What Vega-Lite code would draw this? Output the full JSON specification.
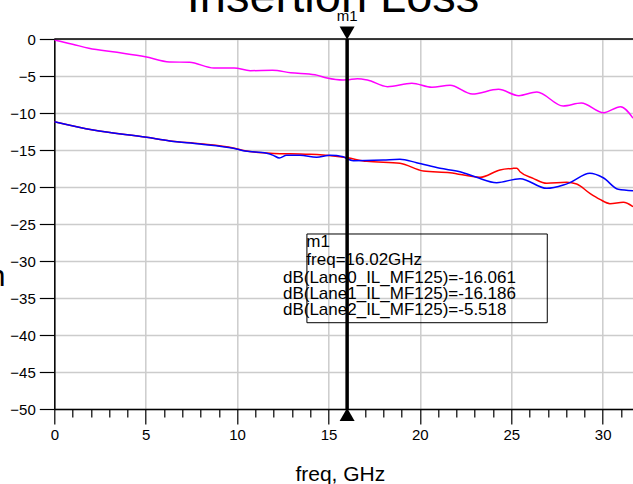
{
  "$schema": "https://vega.github.io/schema/vega-lite/v6.json",
  "width": 578.7,
  "height": 370,
  "autosize": {"type": "none"},
  "padding": {"left": 54.3, "top": 39, "right": 0, "bottom": 75},
  "background": "white",
  "config": {"view": {"stroke": null}, "font": "Liberation Sans"},
  "title": {"text": "Insertion Loss", "fontSize": 47, "font": "Liberation Sans", "fontWeight": "normal", "color": "black", "anchor": "middle", "frame": "group", "baseline": "alphabetic", "offset": 0, "dy": 50, "dx": -10.6},
  "datasets": {
    "curves": [
      {"trace": "Lane0", "f": 0, "v": -11.17},
      {"trace": "Lane0", "f": 2.13, "v": -12.3},
      {"trace": "Lane0", "f": 5.05, "v": -13.29},
      {"trace": "Lane0", "f": 6.33, "v": -13.78},
      {"trace": "Lane0", "f": 7.97, "v": -14.15},
      {"trace": "Lane0", "f": 9.79, "v": -14.72},
      {"trace": "Lane0", "f": 10.43, "v": -15.1},
      {"trace": "Lane0", "f": 11.62, "v": -15.4},
      {"trace": "Lane0", "f": 12.35, "v": -15.5},
      {"trace": "Lane0", "f": 13.44, "v": -15.54},
      {"trace": "Lane0", "f": 13.99, "v": -15.59},
      {"trace": "Lane0", "f": 15.26, "v": -15.81},
      {"trace": "Lane0", "f": 16.02, "v": -16.06},
      {"trace": "Lane0", "f": 17.09, "v": -16.53},
      {"trace": "Lane0", "f": 18.91, "v": -16.8},
      {"trace": "Lane0", "f": 20.19, "v": -17.84},
      {"trace": "Lane0", "f": 21.65, "v": -18.06},
      {"trace": "Lane0", "f": 23.29, "v": -18.69},
      {"trace": "Lane0", "f": 24.38, "v": -17.7},
      {"trace": "Lane0", "f": 25.11, "v": -17.48},
      {"trace": "Lane0", "f": 25.3, "v": -17.45},
      {"trace": "Lane0", "f": 25.48, "v": -17.93},
      {"trace": "Lane0", "f": 26.2, "v": -18.83},
      {"trace": "Lane0", "f": 26.94, "v": -19.5},
      {"trace": "Lane0", "f": 28.03, "v": -19.37},
      {"trace": "Lane0", "f": 28.58, "v": -19.6},
      {"trace": "Lane0", "f": 29.3, "v": -20.86},
      {"trace": "Lane0", "f": 29.85, "v": -21.67},
      {"trace": "Lane0", "f": 30.4, "v": -22.25},
      {"trace": "Lane0", "f": 31.13, "v": -22.07},
      {"trace": "Lane0", "f": 31.66, "v": -22.66},
      {"trace": "Lane1", "f": 0, "v": -11.17},
      {"trace": "Lane1", "f": 2.13, "v": -12.3},
      {"trace": "Lane1", "f": 5.05, "v": -13.29},
      {"trace": "Lane1", "f": 6.33, "v": -13.78},
      {"trace": "Lane1", "f": 7.97, "v": -14.19},
      {"trace": "Lane1", "f": 9.79, "v": -14.77},
      {"trace": "Lane1", "f": 10.43, "v": -15.14},
      {"trace": "Lane1", "f": 11.62, "v": -15.45},
      {"trace": "Lane1", "f": 11.98, "v": -15.72},
      {"trace": "Lane1", "f": 12.31, "v": -16.08},
      {"trace": "Lane1", "f": 12.71, "v": -15.72},
      {"trace": "Lane1", "f": 13.44, "v": -15.72},
      {"trace": "Lane1", "f": 14.35, "v": -15.99},
      {"trace": "Lane1", "f": 15.08, "v": -15.72},
      {"trace": "Lane1", "f": 15.81, "v": -15.9},
      {"trace": "Lane1", "f": 16.02, "v": -16.19},
      {"trace": "Lane1", "f": 16.36, "v": -16.44},
      {"trace": "Lane1", "f": 18.0, "v": -16.35},
      {"trace": "Lane1", "f": 18.91, "v": -16.26},
      {"trace": "Lane1", "f": 19.82, "v": -16.71},
      {"trace": "Lane1", "f": 21.1, "v": -17.48},
      {"trace": "Lane1", "f": 22.19, "v": -17.93},
      {"trace": "Lane1", "f": 23.1, "v": -18.69},
      {"trace": "Lane1", "f": 24.2, "v": -19.41},
      {"trace": "Lane1", "f": 25.48, "v": -18.87},
      {"trace": "Lane1", "f": 26.94, "v": -20.18},
      {"trace": "Lane1", "f": 27.85, "v": -19.73},
      {"trace": "Lane1", "f": 28.21, "v": -19.41},
      {"trace": "Lane1", "f": 29.3, "v": -18.15},
      {"trace": "Lane1", "f": 30.03, "v": -18.75},
      {"trace": "Lane1", "f": 30.85, "v": -20.31},
      {"trace": "Lane1", "f": 31.66, "v": -20.5},
      {"trace": "Lane2", "f": 0, "v": -0.13},
      {"trace": "Lane2", "f": 1.0, "v": -0.7},
      {"trace": "Lane2", "f": 1.89, "v": -1.26},
      {"trace": "Lane2", "f": 3.43, "v": -1.8},
      {"trace": "Lane2", "f": 4.98, "v": -2.39},
      {"trace": "Lane2", "f": 6.3, "v": -3.1},
      {"trace": "Lane2", "f": 7.4, "v": -3.15},
      {"trace": "Lane2", "f": 8.73, "v": -3.92},
      {"trace": "Lane2", "f": 9.84, "v": -3.92},
      {"trace": "Lane2", "f": 10.72, "v": -4.28},
      {"trace": "Lane2", "f": 11.94, "v": -4.23},
      {"trace": "Lane2", "f": 12.93, "v": -4.55},
      {"trace": "Lane2", "f": 14.26, "v": -4.82},
      {"trace": "Lane2", "f": 14.92, "v": -5.27},
      {"trace": "Lane2", "f": 15.8, "v": -5.54},
      {"trace": "Lane2", "f": 16.02, "v": -5.52},
      {"trace": "Lane2", "f": 16.58, "v": -5.36},
      {"trace": "Lane2", "f": 17.13, "v": -5.54},
      {"trace": "Lane2", "f": 18.23, "v": -6.44},
      {"trace": "Lane2", "f": 19.56, "v": -5.99},
      {"trace": "Lane2", "f": 20.66, "v": -6.53},
      {"trace": "Lane2", "f": 21.65, "v": -6.26},
      {"trace": "Lane2", "f": 22.87, "v": -7.43},
      {"trace": "Lane2", "f": 24.3, "v": -6.8},
      {"trace": "Lane2", "f": 25.41, "v": -7.66},
      {"trace": "Lane2", "f": 26.4, "v": -7.16},
      {"trace": "Lane2", "f": 27.84, "v": -9.05},
      {"trace": "Lane2", "f": 28.83, "v": -8.65},
      {"trace": "Lane2", "f": 30.05, "v": -9.96},
      {"trace": "Lane2", "f": 30.98, "v": -9.15},
      {"trace": "Lane2", "f": 31.66, "v": -10.7}
    ]
  },
  "encoding": {
    "x": {
      "field": "f", "type": "quantitative",
      "scale": {"domain": [0, 31.66], "nice": false, "zero": false},
      "axis": {
        "values": [0,1,2,3,4,5,6,7,8,9,10,11,12,13,14,15,16,17,18,19,20,21,22,23,24,25,26,27,28,29,30,31],
        "labelExpr": "datum.value % 5 === 0 ? datum.label : ''",
        "labelFont": "Liberation Sans", "labelFontSize": 15, "labelColor": "black", "labelPadding": 3,
        "labelFlush": false, "labelOverlap": false,
        "tickSize": {"condition": {"test": "datum.value % 5 === 0", "value": 15}, "value": 8},
        "tickColor": "black", "tickWidth": 1.2,
        "grid": true, "gridColor": "#cccccc", "gridWidth": 1.5,
        "gridOpacity": {"condition": {"test": "datum.value % 5 === 0", "value": 1}, "value": 0},
        "domainColor": "black", "domainWidth": 1.5,
        "title": "freq, GHz", "titleFont": "Liberation Sans", "titleFontSize": 21, "titleFontWeight": "normal", "titleColor": "black",
        "titleX": 285.5, "titleY": 71, "titleAlign": "center", "titleBaseline": "alphabetic"
      }
    },
    "y": {
      "field": "v", "type": "quantitative",
      "scale": {"domain": [-50, 0], "nice": false, "zero": false},
      "axis": {
        "values": [-50,-45,-40,-35,-30,-25,-20,-15,-10,-5,0],
        "labelFont": "Liberation Sans", "labelFontSize": 15, "labelColor": "black", "labelPadding": 4,
        "labelFlush": false, "labelOverlap": false,
        "tickSize": 15, "tickColor": "black", "tickWidth": 1.2,
        "grid": true, "gridColor": "#cccccc", "gridWidth": 1.5,
        "domainColor": "black", "domainWidth": 1.5,
        "title": "Insertion", "titleFont": "Liberation Sans", "titleFontSize": 30, "titleFontWeight": "normal", "titleColor": "black",
        "titleAngle": 0, "titleAlign": "right", "titleBaseline": "alphabetic", "titleX": -49.3, "titleY": 246
      }
    }
  },
  "layer": [
    {
      "data": {"name": "curves"},
      "mark": {"type": "line", "interpolate": "monotone", "strokeWidth": 1.5, "clip": true},
      "encoding": {
        "color": {"field": "trace", "type": "nominal", "scale": {"domain": ["Lane0", "Lane1", "Lane2"], "range": ["#ff0000", "#0000ff", "#ff00ff"]}, "legend": null}
      }
    },
    {
      "data": {"values": [{"f": 0, "f2": 31.66, "v": 0}]},
      "mark": {"type": "rule", "color": "black", "strokeWidth": 1.5},
      "encoding": {"x2": {"field": "f2"}}
    },
    {
      "data": {"values": [{"f": 13.82, "f2": 26.97, "v": -26.35, "v2": -38.34}]},
      "mark": {"type": "rect", "fill": "white", "fillOpacity": 0, "stroke": "black", "strokeWidth": 1},
      "encoding": {"x2": {"field": "f2"}, "y2": {"field": "v2"}}
    },
    {
      "data": {"values": [
        {"t": "m1", "f": 13.79, "v": -28.1},
        {"t": "freq=16.02GHz", "f": 13.79, "v": -30.54},
        {"t": "dB(Lane0_IL_MF125)=-16.061", "f": 12.51, "v": -32.97},
        {"t": "dB(Lane1_IL_MF125)=-16.186", "f": 12.51, "v": -35.14},
        {"t": "dB(Lane2_IL_MF125)=-5.518", "f": 12.51, "v": -37.3}
      ]},
      "mark": {"type": "text", "align": "left", "baseline": "alphabetic", "fontSize": 17, "font": "Liberation Sans", "color": "black"},
      "encoding": {"text": {"field": "t"}}
    },
    {
      "data": {"values": [{"f": 16.02, "v": 0, "v2": -50}]},
      "mark": {"type": "rule", "color": "black", "strokeWidth": 3.5},
      "encoding": {"y2": {"field": "v2"}}
    },
    {
      "data": {"values": [{"f": 16.02, "v": 0.81, "s": "triangle-down"}, {"f": 16.02, "v": -50.74, "s": "triangle-up"}]},
      "mark": {"type": "point", "filled": true, "size": 225, "color": "black", "opacity": 1},
      "encoding": {"shape": {"field": "s", "type": "nominal", "scale": null, "legend": null}}
    },
    {
      "data": {"values": [{"f": 16.02, "v": 2.47, "t": "m1"}]},
      "mark": {"type": "text", "align": "center", "baseline": "alphabetic", "fontSize": 15, "font": "Liberation Sans", "color": "black"},
      "encoding": {"text": {"field": "t"}}
    }
  ]
}
